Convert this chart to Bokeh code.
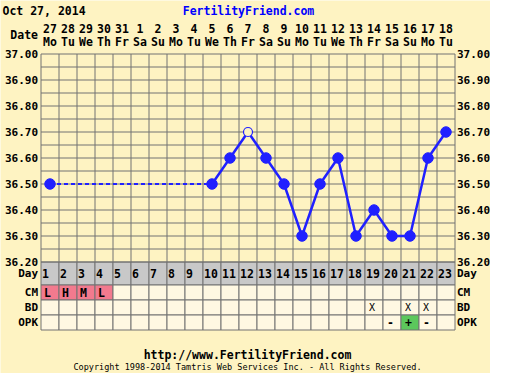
from bokeh.plotting import figure
from bokeh.models import Range1d, Label
from bokeh.core.properties import value
from bokeh.embed import file_html
from bokeh.resources import INLINE

# ---- data ----
days = list(range(1, 24))
dates = ["27", "28", "29", "30", "31", "1", "2", "3", "4", "5", "6", "7",
         "8", "9", "10", "11", "12", "13", "14", "15", "16", "17", "18"]
weekdays = ["Mo", "Tu", "We", "Th", "Fr", "Sa", "Su", "Mo", "Tu", "We", "Th", "Fr",
            "Sa", "Su", "Mo", "Tu", "We", "Th", "Fr", "Sa", "Su", "Mo", "Tu"]
temps = [36.50, None, None, None, None, None, None, None, None,
         36.50, 36.60, 36.70, 36.60, 36.50, 36.30, 36.50, 36.60, 36.30,
         36.40, 36.30, 36.30, 36.60, 36.70]
questionable = [12]
cm = ["L", "H", "M", "L"] + [""] * 19
bd = [""] * 18 + ["X", "", "X", "X", ""]
opk = [""] * 19 + ["-", "+", "-", ""]
temp_ticks = [36.2, 36.3, 36.4, 36.5, 36.6, 36.7, 36.8, 36.9, 37.0]
grid_ticks = [round(36.2 + 0.05 * i, 2) for i in range(17)]
row_labels = ["Day", "CM", "BD", "OPK"]

# ---- layout (pixels) ----
W, H = 490, 373
COL = 18
FL, FT = 40.5, 53.5          # left / top edge of the grid
ppu = 13 / 0.05              # pixels per degree
ROW_H = [23, 15, 15, 15]
TMIN, TMAX = 36.2, 37.0

BG = "#FEF3C2"
CREAM = "#FFF8E2"
GRAY = "#C8C8C8"
GRIDC = "#737373"
BLUE = "#2020FF"
FONT = "DejaVu Sans Mono"
FS = "11.5px"
AX = "11px"

x0 = 0.5 - FL / COL
y1 = TMAX + FT / ppu
p = figure(width=W, height=H, output_backend="svg", toolbar_location=None,
           x_axis_location=None, y_axis_location=None,
           x_range=Range1d(x0, x0 + W / COL), y_range=Range1d(y1 - H / ppu, y1),
           min_border=0)
p.background_fill_color = BG
p.border_fill_color = BG
p.outline_line_color = None
p.grid.visible = False

# table row boundaries (temperature units, below the chart)
bounds = [TMIN]
for h in ROW_H:
    bounds.append(bounds[-1] - h / ppu)
row_top = bounds[:-1]
row_bot = bounds[1:]
row_ctr = [(a + b) / 2 for a, b in zip(row_top, row_bot)]

# ---- table cells ----
def cells(row, fills):
    p.quad(left=[d - 0.5 for d in days], right=[d + 0.5 for d in days],
           top=[row_top[row]] * len(days), bottom=[row_bot[row]] * len(days),
           fill_color=fills, line_color=GRIDC, line_width=1)

cells(0, [GRAY] * len(days))
cells(1, ["#F27A8E" if c else CREAM for c in cm])
cells(2, [CREAM] * len(days))
cells(3, ["#5CC85C" if o == "+" else CREAM for o in opk])

# ---- chart grid ----
edges = [d + 0.5 for d in range(0, 24)]
p.segment(x0=edges, x1=edges, y0=[TMIN] * len(edges), y1=[TMAX] * len(edges),
          line_color=GRIDC, line_width=1)
p.segment(x0=[0.5] * len(grid_ticks), x1=[23.5] * len(grid_ticks),
          y0=grid_ticks, y1=grid_ticks, line_color=GRIDC, line_width=1)

def txt(x, y, text, align="left", xoff=0, yoff=0, bold=True, size=FS, color="black"):
    p.text(x=x, y=y, text=text, text_font=value(FONT),
           text_font_style="bold" if bold else "normal", text_font_size=size,
           text_align=align, text_baseline="middle", x_offset=xoff, y_offset=yoff,
           text_color=color)

def row_text(row, texts, bold=True, size=FS, xoff=2):
    xs = [d - 0.5 for d, s in zip(days, texts) if s]
    ts = [s for s in texts if s]
    txt(xs, [row_ctr[row]] * len(xs), ts, xoff=xoff, bold=bold, size=size)

row_text(0, [str(d) for d in days], xoff=1)
row_text(1, cm, xoff=3)
row_text(2, bd, bold=False, size="10px", xoff=4)
row_text(3, opk, xoff=4)

# ---- temperature line ----
present = [(d, t) for d, t in zip(days, temps) if t is not None]
runs, dashes = [], []
cur = [present[0]]
for (d0, t0), (d1, t1) in zip(present, present[1:]):
    if d1 == d0 + 1:
        cur.append((d1, t1))
    else:
        if len(cur) > 1:
            runs.append(cur)
        dashes.append([(d0, t0), (d1, t1)])
        cur = [(d1, t1)]
if len(cur) > 1:
    runs.append(cur)

if dashes:
    p.multi_line(xs=[[a for a, b in r] for r in dashes], ys=[[b for a, b in r] for r in dashes],
                 line_color=BLUE, line_width=2, line_dash="4 3")
if runs:
    p.multi_line(xs=[[a for a, b in r] for r in runs], ys=[[b for a, b in r] for r in runs],
                 line_color=BLUE, line_width=2.5)

fx = [d for d, t in present if d not in questionable]
fy = [t for d, t in present if d not in questionable]
p.scatter(fx, fy, size=10.5, fill_color=BLUE, line_color=BLUE)
qx = [d for d, t in present if d in questionable]
qy = [t for d, t in present if d in questionable]
p.scatter(qx, qy, size=9, fill_color=BG, line_color=BLUE, line_width=1.2)

# ---- tick labels (both sides) ----
tick_lbls = ["%.2f" % t for t in temp_ticks]
txt([0.5] * len(temp_ticks), temp_ticks, tick_lbls, align="right", xoff=-3, size=AX)
txt([23.5] * len(temp_ticks), temp_ticks, tick_lbls, align="left", xoff=2, size=AX)
txt([0.5] * 4, row_ctr, row_labels, align="right", xoff=-3, size=AX)
txt([23.5] * 4, row_ctr, row_labels, align="left", xoff=2, size=AX)

# ---- date header ----
txt(days, [TMAX] * len(days), weekdays, align="center", yoff=-12.5)
txt(days, [TMAX] * len(days), dates, align="center", yoff=-25.5)
txt([0.5], [TMAX], ["Date"], align="right", xoff=-3, yoff=-19)

# ---- page texts ----
def lab(x, y, text, size=FS, color="black", align="left", bold=True):
    p.add_layout(Label(x=x, y=H - y, x_units="screen", y_units="screen", text=text,
                       text_font=FONT, text_font_size=size, text_color=color,
                       text_font_style="bold" if bold else "normal",
                       text_align=align, text_baseline="middle"))

lab(2, 10, "Oct 27, 2014")
lab(248, 10, "FertilityFriend.com", color="#0000FF", align="center")
lab(247, 354, "http://www.FertilityFriend.com", align="center")
lab(247, 366, "Copyright 1998-2014 Tamtris Web Services Inc. - All Rights Reserved.",
    size="8.5px", align="center", bold=False)

open("out.html", "w").write(file_html(p, INLINE))
